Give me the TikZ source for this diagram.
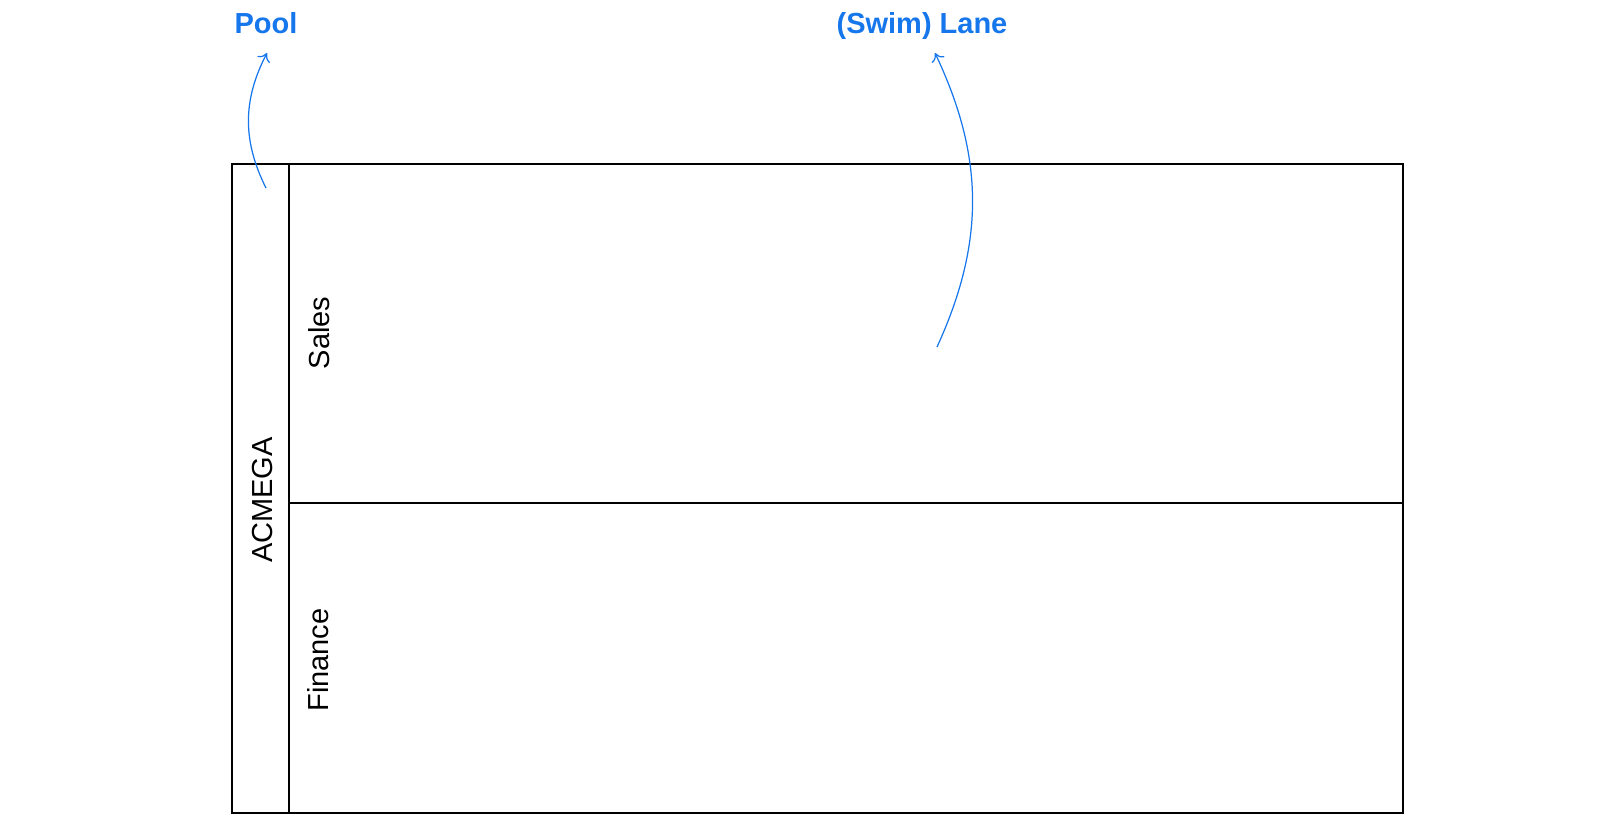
\documentclass[tikz,border=0pt]{standalone}
\usepackage{fontspec}
\setmainfont{Liberation Sans}
\usetikzlibrary{calc,arrows.meta}
\definecolor{callblue}{RGB}{22,118,236}
\begin{document}
\begin{tikzpicture}[x=0.02cm, y=-0.02cm,
    frame/.style={draw=black, line width=0.8pt},
    lanetext/.style={rotate=90, font=\fontsize{16.5}{19}\selectfont},
    callout/.style={anchor=base, text=callblue, font=\fontsize{16.5}{20}\selectfont\bfseries},
    pointer/.style={-{To[length=4.5pt,width=8pt]}, draw=callblue, line width=0.7pt}]
  \useasboundingbox (0,0) rectangle (1600,826);

  % corners of the pool
  \coordinate (nw) at (232,164);
  \coordinate (se) at (1403,813);
  \coordinate (bandtop) at (289,164);
  \coordinate (bandbot) at (289,813);
  \coordinate (splitl) at (289,503);
  \coordinate (splitr) at (1403,503);

  \draw[frame] (nw) rectangle (se);% pool outline
  \draw[frame] (bandtop) -- (bandbot);% pool header band
  \draw[frame] (splitl) -- (splitr);% line between the lanes

  % names
  \node[lanetext] (pool) at (263,500) {ACMEGA};
  \node[lanetext] (sales) at (319,333) {Sales};
  \node[lanetext] (finance) at (318,660) {Finance};

  % callouts
  \node[callout] (poollbl) at (266,33) {Pool};
  \node[callout] (lanelbl) at (922,33) {(Swim) Lane};
  \coordinate (poolfrom) at (266,188);
  \coordinate (lanefrom) at (937,347);

  \draw[pointer] (poolfrom) to[bend left=27] ($(poollbl.base)+(1,20)$);
  \draw[pointer] (lanefrom) to[bend right=25] ($(lanelbl.base)+(13,20)$);
\end{tikzpicture}
\end{document}
